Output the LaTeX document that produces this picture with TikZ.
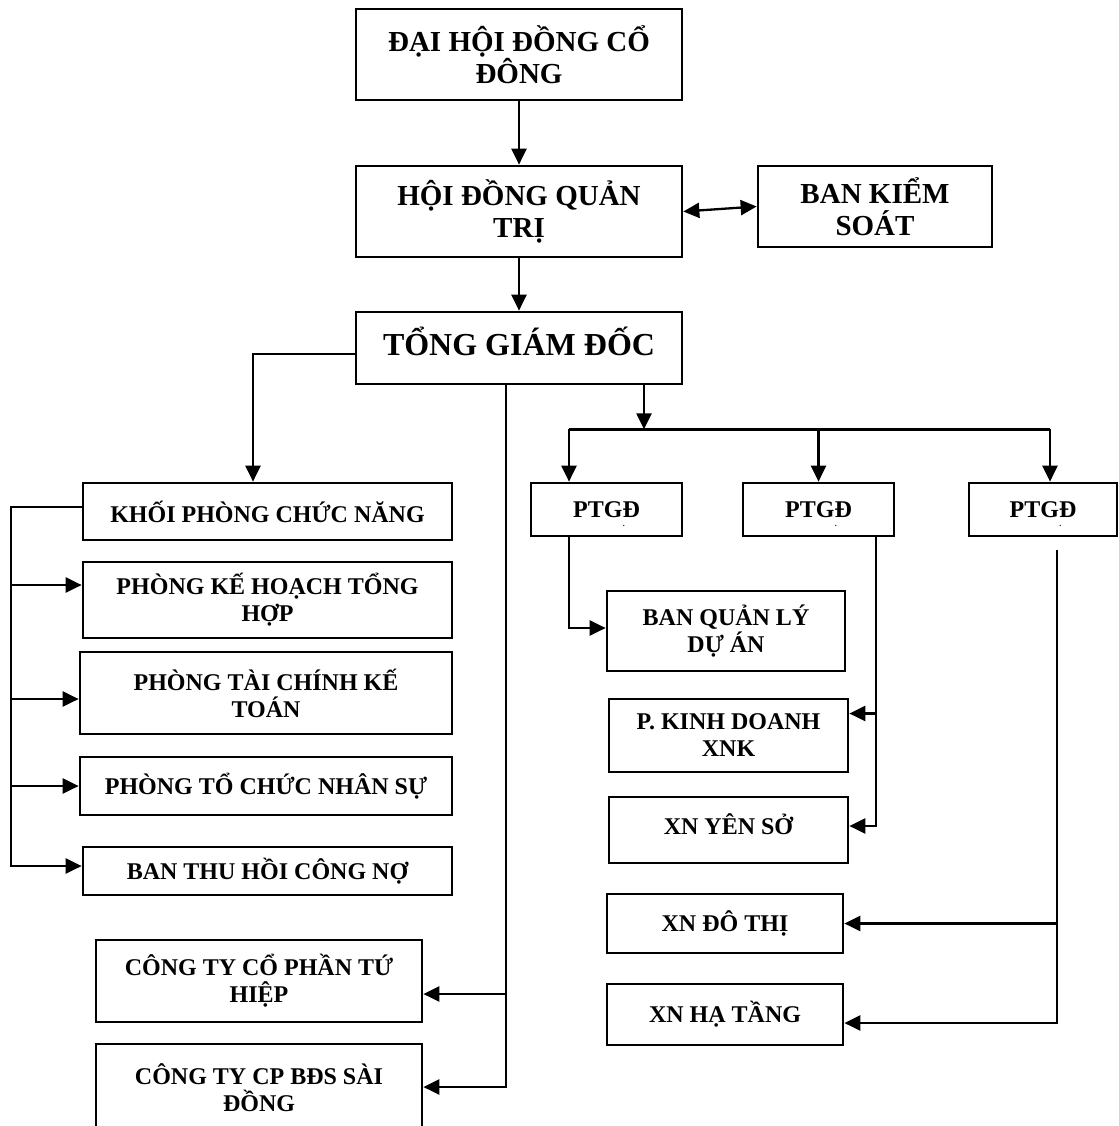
\documentclass[tikz,border=0pt]{standalone}
\usepackage{fontspec}
\setmainfont{Liberation Serif}
\usetikzlibrary{arrows.meta}

\tikzset{
  orgbox/.style={draw, line width=2.7pt, align=center, inner sep=2pt,
    font=\bfseries\fontsize{24}{27}\selectfont},
  bigbox/.style={orgbox, font=\bfseries\fontsize{29}{32}\selectfont},
  link/.style={line width=2.3pt},
  arr/.style={link, -{Triangle[length=16pt,width=15pt]}},
  twoarr/.style={link, {Triangle[length=16pt,width=15pt]}-{Triangle[length=16pt,width=15pt]}},
}
\newcommand{\ptdot}{\makebox[0pt][l]{\smash{\raisebox{-9pt}{\fontsize{8}{8}\selectfont\hspace*{-17pt}.}}}}

\begin{document}
\begin{tikzpicture}[x=1pt, y=-1pt]
\useasboundingbox (0,0) rectangle (1118,1126);

% top of the chart
\node[bigbox, minimum width=326, minimum height=91] (dhd) at (519,54.5) {ĐẠI HỘI ĐỒNG CỔ\\ĐÔNG};
\node[bigbox, minimum width=326, minimum height=91] (hdqt) at (519,211.5) {HỘI ĐỒNG QUẢN\\TRỊ};
\node[bigbox, minimum width=234, minimum height=81] (bks) at (875,206.5) {BAN KIỂM\\SOÁT};
\node[orgbox, font=\bfseries\fontsize{32}{36}\selectfont, text depth=14pt, minimum width=326, minimum height=72] (tgd) at (519,348) {TỔNG GIÁM ĐỐC};

% left column
\node[orgbox, minimum width=369, minimum height=57] (khoi) at (267.5,511.5) {KHỐI PHÒNG CHỨC NĂNG};
\node[orgbox, minimum width=369, minimum height=76] (khth) at (267.5,600) {PHÒNG KẾ HOẠCH TỔNG\\HỢP};
\node[orgbox, minimum width=372, minimum height=82] (tckt) at (266,693) {PHÒNG TÀI CHÍNH KẾ\\TOÁN};
\node[orgbox, minimum width=372, minimum height=58] (tcns) at (266,786) {PHÒNG TỔ CHỨC NHÂN SỰ};
\node[orgbox, minimum width=369, minimum height=48] (bthcn) at (267.5,871) {BAN THU HỒI CÔNG NỢ};
\node[orgbox, minimum width=326, minimum height=82] (ctth) at (259,981) {CÔNG TY CỔ PHẦN TỨ\\HIỆP};
\node[orgbox, minimum width=326, minimum height=88] (ctbds) at (259,1088) {CÔNG TY CP BĐS SÀI\\ĐỒNG};

% deputies
\node[orgbox, minimum width=151, minimum height=53] (ptgd1) at (606.5,509.5) {PTGĐ\ptdot};
\node[orgbox, minimum width=151, minimum height=53] (ptgd2) at (818.5,509.5) {PTGĐ\ptdot};
\node[orgbox, minimum width=148, minimum height=53] (ptgd3) at (1043,509.5) {PTGĐ\ptdot};

% right column
\node[orgbox, minimum width=238, minimum height=80] (bqlda) at (726,631) {BAN QUẢN LÝ\\DỰ ÁN};
\node[orgbox, minimum width=239, minimum height=73] (pkd) at (728.5,735.5) {P. KINH DOANH\\XNK};
\node[orgbox, text depth=12pt, minimum width=239, minimum height=66] (xnys) at (728.5,830) {XN YÊN SỞ};
\node[orgbox, minimum width=236, minimum height=59] (xndt) at (725,923.5) {XN ĐÔ THỊ};
\node[orgbox, minimum width=236, minimum height=61] (xnht) at (725,1014.5) {XN HẠ TẦNG};

% links
\draw[arr] (dhd) -- (hdqt);
\draw[twoarr] (hdqt.east) -- (bks.west);
\draw[arr] (hdqt) -- (tgd);

\draw[arr] ([yshift=-6]tgd.west) -| ([xshift=-14.5]khoi.north);
\foreach \n/\dy in {khth/15, tckt/-6, tcns/0, bthcn/5}
  \draw[arr] ([yshift=4.5]khoi.west) -- ++(-71,0) |- ([yshift=\dy]\n.east -| \n.west);

\foreach \n/\dy in {ctth/-13, ctbds/1}
  \draw[arr] ([xshift=-13]tgd.south) |- ([yshift=\dy]\n.east);

\draw[arr] ([xshift=125]tgd.south) -- ++(0,44) coordinate (rbus);
\draw[link] ([xshift=-37.5]ptgd1.north |- rbus) -- ([xshift=7]ptgd3.north |- rbus);
\foreach \n/\dx in {ptgd1/-37.5, ptgd2/0, ptgd3/7}
  \draw[arr] ([xshift=\dx]\n.north |- rbus) -- ([xshift=\dx]\n.north);

\draw[arr] ([xshift=-37.5]ptgd1.south) |- ([yshift=3]bqlda.west);
\foreach \n/\dy in {pkd/22, xnys/4}
  \draw[arr] ([xshift=57.5]ptgd2.south) |- ([yshift=\dy]\n.east);
\foreach \n/\dy in {xndt/0, xnht/-8.5}
  \draw[arr] ([xshift=14, yshift=-13]ptgd3.south) |- ([yshift=\dy]\n.east);
\end{tikzpicture}
\end{document}
